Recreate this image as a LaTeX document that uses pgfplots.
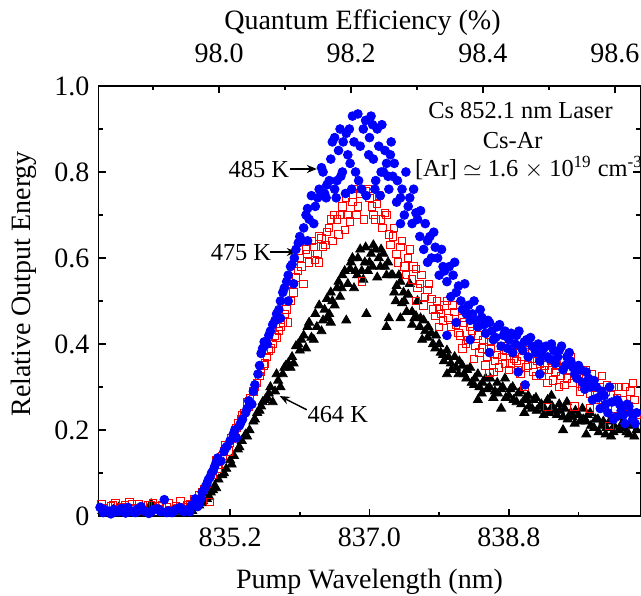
\documentclass[border=0pt]{standalone}
\usepackage{pgfplots}
\pgfplotsset{compat=1.18}
\usepackage{fontspec}
\setmainfont{Liberation Serif}
\usetikzlibrary{arrows.meta}

\newcommand{\tickfont}{\fontsize{14}{16}\selectfont}
\newcommand{\labfont}{\fontsize{14}{16}\selectfont}
\newcommand{\annfont}{\fontsize{12.2}{14}\selectfont}

\begin{document}
\begin{tikzpicture}
\pgfplotsset{
  common/.style={
    scale only axis, width=271pt, height=215pt,
    ymin=0, ymax=1,
    tick align=inside,
    axis line style={line width=0.9pt},
    major tick length=3.5pt, minor tick length=2.2pt,
    every tick/.style={line width=0.8pt, black},
    tick label style={font=\tickfont},
    label style={font=\labfont},
  }
}
% wavelength axis with the data
\begin{axis}[common,
    xmin=833.5, xmax=840.5,
    xtick={835.2,837.0,838.8}, xticklabels={835.2,837.0,838.8},
    minor xtick={834.3,836.1,837.9,839.7},
    ytick={0,0.2,0.4,0.6,0.8,1.0}, yticklabels={0,0.2,0.4,0.6,0.8,1.0},
    minor ytick={0.1,0.3,0.5,0.7,0.9},
    xtick pos=bottom, ytick pos=both, yticklabel pos=left,
    xticklabel style={yshift=-2.5pt},
    yticklabel style={xshift=-1pt},
    xlabel={Pump Wavelength (nm)},
    ylabel={Relative Output Energy},
    xlabel style={at={(axis description cs:0.5,-0.153)}, anchor=center},
    ylabel style={at={(axis description cs:-0.137,0.54)}, anchor=center},
    clip=true]

  % 464 K
  \addplot[only marks, mark=triangle*, mark size=2.6pt, black] coordinates {
    (833.55,0.012) (833.62,0.006) (833.69,0.015) (833.76,0.020) (833.83,0.009)
    (833.90,0.014) (833.97,0.008) (834.04,0.018) (834.11,0.010) (834.18,0.028)
    (834.25,0.016) (834.32,0.012) (834.39,0.008) (834.46,0.015) (834.53,0.010)
    (834.60,0.018) (834.67,0.012) (834.74,0.020) (834.80,0.025) (834.85,0.035)
    (834.90,0.040) (834.95,0.055) (835.00,0.070) (835.05,0.085) (835.10,0.095)
    (835.15,0.110) (835.20,0.130) (835.25,0.140) (835.30,0.155) (835.35,0.175)
    (835.40,0.190) (835.45,0.200) (835.50,0.220) (835.55,0.240) (835.60,0.255)
    (835.65,0.270) (835.70,0.285) (835.75,0.265) (835.80,0.330) (835.85,0.300)
    (835.90,0.345) (835.95,0.355) (836.00,0.370) (836.05,0.395) (836.10,0.385)
    (836.15,0.420) (836.20,0.440) (836.25,0.415) (836.30,0.470) (836.35,0.490)
    (836.40,0.455) (836.45,0.505) (836.50,0.520) (836.55,0.490) (836.60,0.545)
    (836.65,0.560) (836.70,0.455) (836.75,0.575) (836.80,0.530) (836.85,0.600)
    (836.90,0.570) (836.95,0.625) (837.00,0.590) (837.05,0.630) (837.10,0.555)
    (837.15,0.620) (837.20,0.580) (837.25,0.460) (837.30,0.560) (837.35,0.535)
    (837.40,0.545) (837.45,0.500) (837.50,0.515) (837.55,0.475) (837.60,0.465)
    (837.65,0.440) (837.70,0.455) (837.75,0.415) (837.80,0.425) (837.85,0.390)
    (837.90,0.400) (837.95,0.375) (838.00,0.385) (838.05,0.355) (838.10,0.370)
    (838.15,0.330) (838.20,0.350) (838.25,0.320) (838.30,0.345) (838.35,0.305)
    (838.40,0.330) (838.45,0.285) (838.50,0.320) (838.55,0.300) (838.60,0.275)
    (838.65,0.310) (838.70,0.295) (838.75,0.320) (838.80,0.280) (838.85,0.300)
    (838.90,0.265) (838.95,0.290) (839.00,0.270) (839.05,0.280) (839.10,0.250)
    (839.15,0.275) (839.20,0.255) (839.25,0.235) (839.30,0.270) (839.35,0.280)
    (839.40,0.245) (839.45,0.260) (839.50,0.230) (839.55,0.265) (839.60,0.240)
    (839.65,0.215) (839.70,0.235) (839.75,0.250) (839.80,0.220) (839.85,0.240)
    (839.90,0.205) (839.95,0.225) (840.00,0.210) (840.05,0.190) (840.10,0.220)
    (840.15,0.195) (840.20,0.230) (840.25,0.205) (840.30,0.245) (840.35,0.190)
    (840.40,0.215) (840.45,0.200)
    (836.62,0.510) (836.78,0.600) (836.92,0.550) (837.02,0.610) (837.12,0.600)
    (837.22,0.560) (836.48,0.470) (836.38,0.430) (836.28,0.410) (837.32,0.520)
    (837.42,0.495) (837.55,0.445) (837.68,0.410) (836.82,0.570) (836.98,0.570)
    (836.02,0.355) (836.08,0.400) (836.12,0.410) (836.18,0.390) (836.22,0.450)
    (836.32,0.440) (836.42,0.480) (836.46,0.460) (836.52,0.500) (836.58,0.530)
    (836.64,0.530) (836.68,0.570) (836.72,0.540) (836.76,0.590) (836.84,0.560)
    (836.88,0.620) (836.94,0.590) (836.96,0.470) (837.04,0.580) (837.08,0.620)
    (837.14,0.580) (837.18,0.610) (837.24,0.590) (837.28,0.560) (837.34,0.500)
    (837.38,0.560) (837.44,0.520) (837.48,0.475) (837.52,0.540) (837.58,0.460)
    (837.62,0.500) (837.66,0.460) (837.72,0.430) (837.76,0.440) (837.82,0.400)
    (837.86,0.420) (837.92,0.380) (837.96,0.360) (838.02,0.370) (838.06,0.340)
    (838.12,0.345) (838.16,0.360) (838.22,0.330) (838.26,0.340) (838.32,0.310)
    (838.36,0.320) (838.42,0.300) (838.46,0.310) (838.52,0.295) (838.56,0.320)
    (838.62,0.290) (838.66,0.285) (838.72,0.300) (838.76,0.275) (838.82,0.295)
    (838.86,0.270) (838.92,0.285) (838.96,0.260) (839.02,0.275) (839.06,0.255)
    (839.12,0.270) (839.16,0.245) (839.22,0.260) (839.26,0.250) (839.32,0.240)
    (839.36,0.255) (839.42,0.235) (839.46,0.245) (839.52,0.250) (839.56,0.225)
    (839.62,0.230) (839.66,0.245) (839.72,0.220) (839.76,0.225) (839.82,0.235)
    (839.86,0.210) (839.92,0.225) (839.96,0.195) (840.02,0.220) (840.06,0.205)
    (840.12,0.185) (840.16,0.210) (840.22,0.200) (840.26,0.215) (840.32,0.195)
    (840.36,0.210) (840.42,0.185)
    (835.02,0.065) (835.12,0.100) (835.22,0.120) (835.32,0.160) (835.42,0.185)
    (835.52,0.225) (835.58,0.245) (835.62,0.265) (835.68,0.275) (835.72,0.300)
    (835.78,0.290) (835.82,0.315) (835.88,0.330) (835.92,0.350) (835.98,0.345)
    (833.59,0.010) (833.73,0.012) (833.87,0.016) (834.01,0.010) (834.15,0.020)
    (834.29,0.014) (834.43,0.010) (834.57,0.016) (834.71,0.012) (834.83,0.030)
    (834.93,0.045) (834.98,0.060)
    (837.22,0.440) (837.40,0.460) (838.00,0.330) (838.40,0.270) (839.00,0.240)
    (839.50,0.200) (836.50,0.450) (838.70,0.250) (839.80,0.190)
  };

  % 475 K
  \addplot[only marks, mark=square, mark size=1.85pt, red,
           mark options={line width=0.5pt}] coordinates {
    (833.54,0.028) (833.60,0.010) (833.66,0.022) (833.72,0.030) (833.78,0.015)
    (833.84,0.025) (833.90,0.032) (833.96,0.018) (834.02,0.028) (834.08,0.012)
    (834.14,0.024) (834.20,0.030) (834.26,0.016) (834.32,0.026) (834.38,0.020)
    (834.44,0.012) (834.50,0.022) (834.56,0.034) (834.62,0.020) (834.68,0.028)
    (834.74,0.040) (834.80,0.048) (834.86,0.062) (834.90,0.075) (834.94,0.032)
    (834.98,0.095) (835.02,0.130) (835.06,0.120) (835.10,0.140) (835.14,0.165)
    (835.18,0.150) (835.22,0.180) (835.26,0.200) (835.30,0.215) (835.34,0.225)
    (835.38,0.240) (835.42,0.265) (835.46,0.275) (835.50,0.290) (835.55,0.310)
    (835.60,0.335) (835.65,0.355) (835.70,0.385) (835.75,0.400) (835.80,0.415)
    (835.85,0.440) (835.90,0.470) (835.95,0.450) (836.00,0.540) (836.05,0.555)
    (836.10,0.600) (836.15,0.540) (836.20,0.610) (836.25,0.640) (836.30,0.595)
    (836.35,0.650) (836.40,0.625) (836.45,0.660) (836.50,0.690) (836.55,0.700)
    (836.60,0.655) (836.65,0.720) (836.70,0.740) (836.75,0.685) (836.80,0.760)
    (836.85,0.720) (836.90,0.545) (836.95,0.755) (837.00,0.740) (837.05,0.700)
    (837.10,0.725) (837.15,0.690) (837.20,0.705) (837.25,0.655) (837.30,0.650)
    (837.35,0.610) (837.40,0.625) (837.45,0.580) (837.50,0.600) (837.55,0.550)
    (837.60,0.575) (837.65,0.540) (837.70,0.490) (837.75,0.525) (837.80,0.505)
    (837.85,0.465) (837.90,0.480) (837.95,0.455) (838.00,0.500) (838.05,0.440)
    (838.10,0.475) (838.15,0.425) (838.20,0.460) (838.25,0.400) (838.30,0.440)
    (838.35,0.365) (838.40,0.420) (838.45,0.390) (838.50,0.350) (838.55,0.405)
    (838.60,0.335) (838.65,0.375) (838.70,0.395) (838.75,0.355) (838.80,0.340)
    (838.85,0.380) (838.90,0.360) (838.95,0.330) (839.00,0.385) (839.05,0.350)
    (839.10,0.365) (839.15,0.325) (839.20,0.355) (839.25,0.340) (839.30,0.310)
    (839.35,0.360) (839.40,0.335) (839.45,0.300) (839.50,0.345) (839.55,0.320)
    (839.60,0.370) (839.65,0.255) (839.70,0.330) (839.75,0.300) (839.80,0.340)
    (839.85,0.285) (839.90,0.310) (839.95,0.270) (840.00,0.325) (840.05,0.290)
    (840.10,0.210) (840.15,0.300) (840.20,0.275) (840.25,0.240) (840.30,0.300)
    (840.35,0.255) (840.40,0.310) (840.45,0.235)
    (836.02,0.520) (836.08,0.570) (836.12,0.580) (836.18,0.620) (836.22,0.590)
    (836.28,0.625) (836.33,0.610) (836.38,0.645) (836.43,0.630) (836.48,0.670)
    (836.52,0.640) (836.58,0.690) (836.62,0.700) (836.68,0.665) (836.72,0.700)
    (836.78,0.730) (836.83,0.700) (836.88,0.750) (836.93,0.690) (836.98,0.760)
    (837.03,0.720) (837.08,0.690) (837.12,0.745) (837.17,0.670) (837.22,0.700)
    (837.27,0.630) (837.32,0.670) (837.37,0.590) (837.42,0.640) (837.47,0.560)
    (837.52,0.620) (837.57,0.580) (837.62,0.530) (837.67,0.560) (837.72,0.510)
    (837.77,0.540) (837.82,0.480) (837.87,0.500) (837.92,0.470) (837.97,0.490)
    (838.02,0.460) (838.07,0.490) (838.12,0.445) (838.17,0.420) (838.22,0.450)
    (838.27,0.410) (838.32,0.430) (838.37,0.395) (838.42,0.380) (838.47,0.410)
    (838.52,0.370) (838.57,0.390) (838.62,0.360) (838.67,0.345) (838.72,0.370)
    (838.77,0.385) (838.82,0.355) (838.87,0.365) (838.92,0.340) (838.97,0.370)
    (839.02,0.345) (839.07,0.380) (839.12,0.335) (839.17,0.360) (839.22,0.325)
    (839.27,0.350) (839.32,0.340) (839.37,0.315) (839.42,0.350) (839.47,0.325)
    (839.52,0.305) (839.57,0.340) (839.62,0.310) (839.67,0.340) (839.72,0.290)
    (839.77,0.320) (839.82,0.300) (839.87,0.330) (839.92,0.280) (839.97,0.300)
    (840.02,0.265) (840.07,0.305) (840.12,0.280) (840.17,0.250) (840.22,0.300)
    (840.27,0.270) (840.32,0.245) (840.37,0.290) (840.42,0.270)
    (835.04,0.110) (835.12,0.150) (835.20,0.170) (835.28,0.205) (835.36,0.235)
    (835.44,0.255) (835.52,0.300) (835.58,0.325) (835.63,0.350) (835.68,0.370)
    (835.73,0.390) (835.78,0.420) (835.83,0.430) (835.88,0.450) (835.93,0.480)
    (835.98,0.500)
    (833.57,0.018) (833.69,0.025) (833.81,0.020) (833.93,0.028) (834.05,0.018)
    (834.17,0.026) (834.29,0.022) (834.41,0.030) (834.53,0.018) (834.65,0.025)
    (834.77,0.030) (834.84,0.055)
    (837.90,0.440) (838.55,0.333) (839.30,0.253) (838.20,0.390) (837.60,0.500)
    (836.35,0.590) (839.00,0.300) (839.85,0.250)
  };

  % 485 K
  \addplot[only marks, mark=*, mark size=2.2pt, blue] coordinates {
    (833.52,0.020) (833.56,0.008) (833.61,0.012) (833.66,0.005) (833.70,0.015)
    (833.75,0.010) (833.80,0.018) (833.85,0.007) (833.90,0.013) (833.95,0.009)
    (834.00,0.016) (834.05,0.022) (834.10,0.011) (834.15,0.006) (834.20,0.014)
    (834.25,0.017) (834.30,0.010) (834.35,0.038) (834.40,0.012) (834.45,0.008)
    (834.50,0.015) (834.55,0.020) (834.60,0.010) (834.65,0.014) (834.70,0.025)
    (834.75,0.040) (834.80,0.030) (834.84,0.055) (834.88,0.068) (834.92,0.085)
    (834.96,0.100) (835.00,0.115) (835.04,0.135) (835.08,0.128) (835.12,0.150)
    (835.16,0.162) (835.20,0.175) (835.24,0.190) (835.28,0.182) (835.32,0.210)
    (835.36,0.225) (835.40,0.240) (835.44,0.268) (835.48,0.260) (835.52,0.305)
    (835.56,0.330) (835.60,0.378) (835.64,0.405) (835.68,0.400) (835.70,0.420)
    (835.75,0.445) (835.80,0.470) (835.85,0.500) (835.90,0.530) (835.95,0.560)
    (836.00,0.585) (836.05,0.620) (836.10,0.650) (836.15,0.670) (836.20,0.715)
    (836.25,0.745) (836.30,0.720) (836.35,0.760) (836.40,0.800) (836.45,0.770)
    (836.50,0.830) (836.55,0.760) (836.60,0.850) (836.65,0.800) (836.70,0.890)
    (836.75,0.820) (836.80,0.870) (836.85,0.935) (836.90,0.760) (836.95,0.920)
    (837.00,0.880) (837.05,0.830) (837.10,0.900) (837.15,0.800) (837.20,0.850)
    (837.25,0.760) (837.30,0.790) (837.35,0.730) (837.40,0.740) (837.45,0.700)
    (837.50,0.720) (837.55,0.680) (837.60,0.705) (837.65,0.650) (837.70,0.620)
    (837.75,0.640) (837.80,0.600) (837.85,0.625) (837.90,0.560) (837.95,0.580)
    (838.00,0.545) (838.05,0.510) (838.10,0.590) (838.15,0.535) (838.20,0.480)
    (838.25,0.470) (838.30,0.455) (838.35,0.500) (838.40,0.440) (838.45,0.462)
    (838.50,0.425) (838.55,0.450) (838.60,0.410) (838.65,0.440) (838.70,0.395)
    (838.75,0.430) (838.80,0.410) (838.85,0.380) (838.90,0.420) (838.95,0.395)
    (839.00,0.405) (839.05,0.370) (839.10,0.395) (839.15,0.380) (839.20,0.360)
    (839.25,0.390) (839.30,0.370) (839.35,0.400) (839.40,0.355) (839.45,0.385)
    (839.50,0.340) (839.55,0.370) (839.60,0.360) (839.65,0.330) (839.70,0.350)
    (839.75,0.310) (839.80,0.335) (839.85,0.300) (839.90,0.315) (839.95,0.275)
    (840.00,0.290) (840.05,0.260) (840.10,0.300) (840.15,0.225) (840.20,0.270)
    (840.25,0.245) (840.30,0.215) (840.35,0.255) (840.40,0.225) (840.45,0.240)
    (836.52,0.870) (836.62,0.900) (836.78,0.930) (836.88,0.860) (837.02,0.930)
    (837.08,0.780) (837.16,0.910) (836.42,0.750) (836.28,0.680) (836.58,0.780)
    (836.72,0.840) (837.22,0.820) (837.28,0.870) (835.85,0.460)
    (836.12,0.640) (836.18,0.700) (836.22,0.690) (836.33,0.740) (836.38,0.810)
    (836.44,0.740) (836.48,0.780) (836.55,0.880) (836.57,0.740) (836.63,0.790)
    (836.66,0.870) (836.69,0.750) (836.74,0.900) (836.77,0.760) (836.82,0.800)
    (836.86,0.780) (836.92,0.900) (836.96,0.745) (836.99,0.840) (837.04,0.910)
    (837.07,0.760) (837.12,0.860) (837.14,0.745) (837.18,0.800) (837.24,0.790)
    (837.27,0.840) (837.32,0.820) (837.36,0.780) (837.42,0.760) (837.47,0.800)
    (837.52,0.740) (837.57,0.760) (837.62,0.690) (837.66,0.710) (837.72,0.680)
    (837.78,0.650) (837.83,0.660) (837.88,0.600) (837.93,0.620) (837.97,0.570)
    (838.03,0.580) (838.08,0.560) (838.12,0.520) (838.18,0.500) (838.23,0.540)
    (838.28,0.490) (838.33,0.470) (838.38,0.455) (838.43,0.480) (838.48,0.445)
    (838.53,0.455) (838.58,0.430) (838.63,0.415) (838.68,0.445) (838.73,0.420)
    (838.78,0.390) (838.83,0.425) (838.88,0.400) (838.93,0.430) (838.98,0.385)
    (839.03,0.410) (839.08,0.415) (839.13,0.390) (839.18,0.400) (839.23,0.375)
    (839.28,0.395) (839.33,0.365) (839.38,0.385) (839.43,0.370) (839.48,0.395)
    (839.53,0.350) (839.58,0.380) (839.63,0.345) (839.68,0.320) (839.73,0.340)
    (839.78,0.295) (839.83,0.320) (839.88,0.270) (839.93,0.300) (839.98,0.250)
    (840.03,0.280) (840.08,0.240) (840.13,0.265) (840.18,0.230) (840.23,0.260)
    (840.28,0.235) (840.33,0.260) (840.38,0.240) (840.43,0.215)
    (835.02,0.125) (835.14,0.158) (835.26,0.200) (835.34,0.218) (835.42,0.250)
    (835.50,0.290) (835.58,0.350) (835.62,0.390) (835.72,0.430) (835.78,0.455)
    (835.83,0.480) (835.88,0.520) (835.93,0.545) (835.98,0.580) (836.03,0.600)
    (836.08,0.635)
    (833.58,0.015) (833.68,0.010) (833.78,0.012) (833.88,0.020) (833.98,0.008)
    (834.08,0.012) (834.18,0.010) (834.28,0.015) (834.38,0.008) (834.48,0.012)
    (834.58,0.016) (834.68,0.010) (834.78,0.022) (834.82,0.040) (834.86,0.060)
    (834.90,0.075) (834.94,0.090) (834.98,0.105)
    (838.00,0.420) (838.12,0.450) (838.30,0.410) (838.92,0.335) (839.01,0.305)
    (838.55,0.380) (839.20,0.330) (836.02,0.540) (835.95,0.500) (836.20,0.640)
    (837.40,0.680) (837.75,0.590)
  };

  % labels inside the plot
  \node[font=\annfont, anchor=center] at (axis cs:838.95,0.942) {Cs 852.1 nm Laser};
  \node[font=\annfont, anchor=center] at (axis cs:838.85,0.874) {Cs-Ar};
  \node[font=\annfont, anchor=center] at (axis cs:839.06,0.809)
      {[Ar] $\simeq$ 1.6 $\times$ 10\textsuperscript{19} cm\textsuperscript{-3}};

  \node[font=\annfont, anchor=center] at (axis cs:835.57,0.805) {485 K};
  \draw[-{Stealth[length=5pt,width=4pt]}, line width=0.7pt]
      (axis cs:835.97,0.807) -- (axis cs:836.32,0.807);
  \node[font=\annfont, anchor=center] at (axis cs:835.34,0.612) {475 K};
  \draw[-{Stealth[length=5pt,width=4pt]}, line width=0.7pt]
      (axis cs:835.71,0.614) -- (axis cs:836.06,0.614);
  \node[font=\annfont, anchor=center] at (axis cs:836.59,0.237) {464 K};
  \draw[-{Stealth[length=5pt,width=4pt]}, line width=0.7pt]
      (axis cs:836.19,0.247) -- (axis cs:835.84,0.279);
\end{axis}

% quantum efficiency axis on top
\begin{axis}[common,
    xmin=97.817, xmax=98.639,
    axis x line*=top, axis y line=none,
    xtick={98.0,98.2,98.4,98.6}, xticklabels={98.0,98.2,98.4,98.6},
    minor xtick={97.9,98.1,98.3,98.5},
    xticklabel style={yshift=8pt},
    xlabel={Quantum Efficiency (\%)},
    xlabel style={at={(axis description cs:0.487,1.148)}, anchor=center}]
\end{axis}

\pgfresetboundingbox
\useasboundingbox (-49.25pt,-39.5pt) rectangle (271.25pt,258pt);
\end{tikzpicture}
\end{document}
